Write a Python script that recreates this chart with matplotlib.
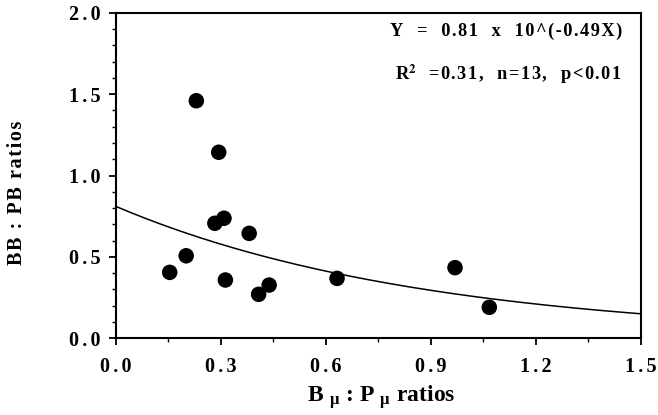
import numpy as np
import matplotlib
matplotlib.use("Agg")
import matplotlib.pyplot as plt
from matplotlib.ticker import MultipleLocator

x_vals = [0.23, 0.294, 0.283, 0.309, 0.381, 0.201, 0.154, 0.313, 0.408, 0.438, 0.632, 0.969, 1.067]
y_vals = [1.46, 1.143, 0.706, 0.737, 0.644, 0.506, 0.404, 0.357, 0.269, 0.326, 0.367, 0.433, 0.189]
fit_a = 0.81
fit_b = -0.49
xticks = [0.0, 0.3, 0.6, 0.9, 1.2, 1.5]
yticks = [0.0, 0.5, 1.0, 1.5, 2.0]

HS = '\u200a'


def spaced(s, sp=HS):
    return sp.join(list(s))


plt.rcParams['font.family'] = ['Liberation Serif', 'DejaVu Serif']
plt.rcParams['font.weight'] = 'bold'
plt.rcParams['mathtext.fontset'] = 'stix'

fig = plt.figure(figsize=(6.58, 4.15), dpi=100)
ax = fig.add_axes([0.176, 0.1855, 0.798, 0.7832])

xf = np.linspace(0, 1.5, 300)
ax.plot(xf, fit_a * 10 ** (fit_b * xf), color='black', lw=1.1, zorder=2)
ax.scatter(x_vals, y_vals, s=125, color='black', zorder=3, edgecolors='none')

ax.set_xlim(0, 1.5)
ax.set_ylim(0, 2.0)
ax.set_xticks(xticks)
ax.set_yticks(yticks)
ax.set_xticklabels([spaced(f"{v:.1f}", HS * 2) for v in xticks])
ax.set_yticklabels([spaced(f"{v:.1f}", HS * 2) for v in yticks])
ax.xaxis.set_minor_locator(MultipleLocator(0.15))
ax.yaxis.set_minor_locator(MultipleLocator(0.1))
ax.tick_params(which='major', direction='out', length=5, width=1.3, labelsize=14.5)
ax.tick_params(axis='x', which='major', pad=9)
ax.tick_params(axis='y', which='major', pad=6)
ax.tick_params(which='minor', direction='out', length=3, width=1.0)
ax.tick_params(axis='both', top=False, right=False)
for lab in ax.get_xticklabels() + ax.get_yticklabels():
    lab.set_fontweight('bold')
for sp in ax.spines.values():
    sp.set_linewidth(1.5)

xlabel = r"B $_{\mathregular{\mu}}$ : P $_{\mathregular{\mu}}$ ratios"
fig.text(381.5 / 658, 1 - 397 / 415, xlabel, ha='center', va='center',
         fontsize=17, fontweight='bold')
fig.text(17.5 / 658, 1 - 192.5 / 415, spaced("BB : PB ratios"), ha='center', va='center',
         rotation=90, fontsize=14.5, fontweight='bold')

ax.text(0.964, 0.945, spaced("Y  =  0.81  x  10^(-0.49X)"), transform=ax.transAxes,
        ha='right', va='center', fontsize=13.2, fontweight='bold')
ax.text(0.964, 0.81, r"R$^{\mathbf{2}}$" + spaced("  =0.31,  n=13,  p<0.01"), transform=ax.transAxes,
        ha='right', va='center', fontsize=13.2, fontweight='bold')

fig.savefig("out.png", dpi=100)
